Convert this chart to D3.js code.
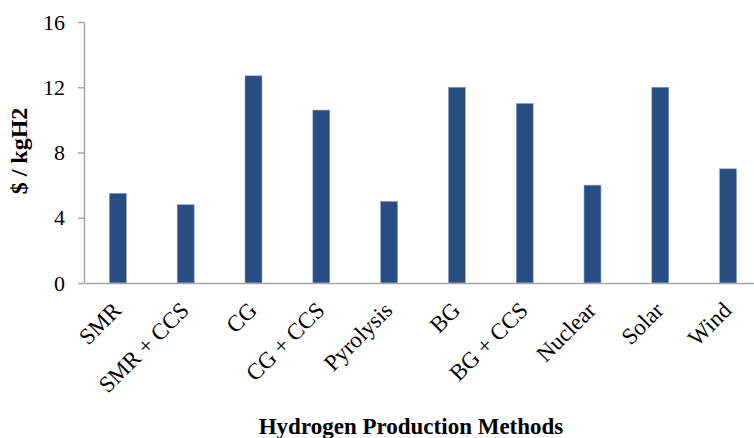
<!DOCTYPE html>
<html>
<head>
<meta charset="utf-8">
<script src="https://cdn.jsdelivr.net/npm/d3@7"></script>
<style>
  body { margin: 0; background: #fff; }
  svg { display: block; font-family: "Liberation Serif", "Times New Roman", serif; }
</style>
</head>
<body>
<div id="chart"></div>
<script>
// Cost of hydrogen by production method.
const methods = ["SMR", "SMR + CCS", "CG", "CG + CCS", "Pyrolysis", "BG", "BG + CCS", "Nuclear", "Solar", "Wind"];
const costs = [5.5, 4.8, 12.7, 10.6, 5.0, 12.0, 11.0, 6.0, 12.0, 7.0];
const yTicks = [0, 4, 8, 12, 16];

const WIDTH = 754, HEIGHT = 438;
const LEFT = 84, RIGHT = 762, TOP = 22, BOTTOM = 283;

const data = methods.map((m, i) => ({ method: m, cost: costs[i] }));

const svg = d3.select("#chart")
    .append("svg")
    .attr("width", WIDTH)
    .attr("height", HEIGHT);

const xScale = d3.scaleBand()
    .domain(methods)
    .range([LEFT, RIGHT])
    .paddingInner(0.75)
    .paddingOuter(0.375);

const yScale = d3.scaleLinear()
    .domain([0, 16])
    .range([BOTTOM, TOP]);

// Bars first so the axis line sits on top of them.
svg.append("g")
    .selectAll("rect")
    .data(data)
    .join("rect")
    .attr("x", d => xScale(d.method))
    .attr("y", d => yScale(d.cost))
    .attr("width", xScale.bandwidth())
    .attr("height", d => yScale(0) - yScale(d.cost))
    .attr("fill", "#284d82")
    .attr("stroke", "#8ea3c4")
    .attr("stroke-width", 0.6);

// Y axis: grey line with outward ticks, serif labels.
const yAxis = svg.append("g")
    .attr("transform", `translate(${LEFT},0)`)
    .call(d3.axisLeft(yScale).tickValues(yTicks).tickSize(6).tickSizeOuter(0).tickPadding(13));
yAxis.select(".domain").attr("stroke", "#a6a6a6").attr("stroke-width", 1.5);
yAxis.selectAll(".tick line").attr("stroke", "#a6a6a6").attr("stroke-width", 1.5);
yAxis.selectAll(".tick text")
    .attr("fill", "#000")
    .style("font-size", "22px")
    .style("font-family", "Liberation Serif, serif");

// X axis: baseline only, labels drawn rotated.
const xAxis = svg.append("g")
    .attr("transform", `translate(0,${BOTTOM})`)
    .call(d3.axisBottom(xScale).tickSize(0).tickSizeOuter(0));
xAxis.select(".domain").attr("stroke", "#a6a6a6").attr("stroke-width", 1.5);
xAxis.selectAll(".tick text")
    .attr("fill", "#000")
    .attr("text-anchor", "end")
    .attr("dy", "0.35em")
    .attr("transform", "translate(-1,23) rotate(-45)")
    .attr("y", 0)
    .style("font-size", "23px")
    .style("font-family", "Liberation Serif, serif");

svg.append("text")
    .attr("transform", `translate(27,151) rotate(-90)`)
    .attr("text-anchor", "middle")
    .style("font-size", "24px")
    .style("font-weight", "bold")
    .text("$ / kgH2");

svg.append("text")
    .attr("x", 411)
    .attr("y", 434)
    .attr("text-anchor", "middle")
    .style("font-size", "23px")
    .style("font-weight", "bold")
    .text("Hydrogen Production Methods");
</script>
</body>
</html>
